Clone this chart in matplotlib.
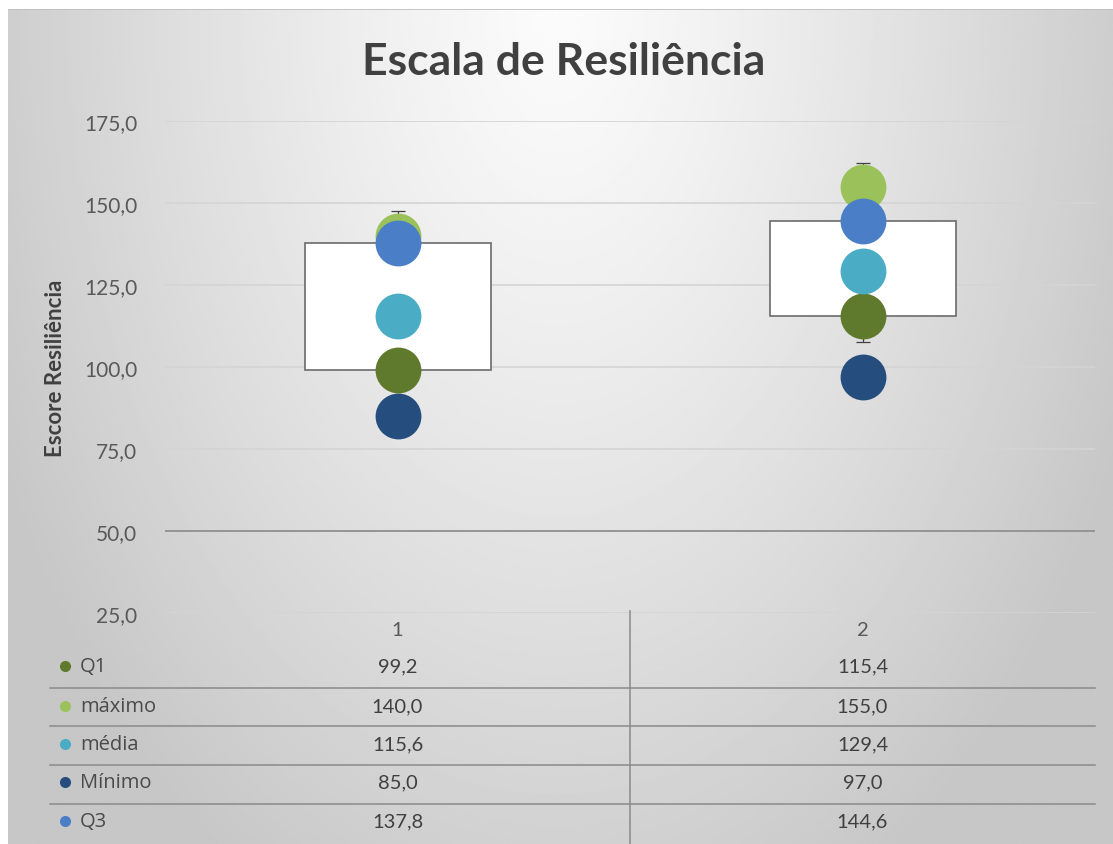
import numpy as np
import matplotlib
matplotlib.use('Agg')
from matplotlib import pyplot as plt
from matplotlib import transforms

plt.rcParams['font.family'] = ['Lato', 'DejaVu Sans']

# data
categories = ['1', '2']
series = ['Q1', 'máximo', 'média', 'Mínimo', 'Q3']
q1 = [99.2, 115.4]
maximo = [140.0, 155.0]
media = [115.6, 129.4]
minimo = [85.0, 97.0]
q3 = [137.8, 144.6]
whisker_top = [147.7, 162.2]
whisker_low = [95.0, 107.5]
yticks = [25, 50, 75, 100, 125, 150, 175]
axis_cross = 50.0

colors = ['#5f7a2c', '#9bc25a', '#4bacc6', '#254e7e', '#4a7fc7']
values = [q1, maximo, media, minimo, q3]

W, H = 1113, 845
fig = plt.figure(figsize=(W / 100, H / 100), dpi=100, facecolor='white')

# background: radial-ish gradient from top centre
bg = fig.add_axes([8 / W, 0, 1 - 8 / W, 1 - 10 / H], zorder=-10)
gx, gy = np.meshgrid(np.linspace(8, W, 400), np.linspace(10, H, 300))
d = np.sqrt(((gx - 557) / 560) ** 2 + ((gy - 10) / 900) ** 2)
shade = np.clip(0.985 - 0.18 * d ** 1.2, 0.78, 1.0)
bg.imshow(shade, cmap='gray', vmin=0, vmax=1, aspect='auto',
          extent=[8, W, H, 10], interpolation='bilinear')
bg.set_xlim(8, W)
bg.set_ylim(H, 10)
bg.axis('off')
bg.plot([8, W], [10.5, 10.5], color='#bdbdbd', lw=1.2)

# main plot area
left, right = 165, 1095
top, bottom = 122, 614
ax = fig.add_axes([left / W, 1 - bottom / H, (right - left) / W, (bottom - top) / H])
ax.set_facecolor('none')
x = np.arange(len(categories))

ax.bar(x, np.array(q3) - np.array(q1), bottom=q1, width=0.4,
       color='white', edgecolor='#6b6b6b', linewidth=1.2, zorder=2)
ax.errorbar(x, q3, yerr=[np.array(q3) - np.array(whisker_low),
                         np.array(whisker_top) - np.array(q3)],
            fmt='none', ecolor='#404040', elinewidth=0.9, capsize=5,
            capthick=0.9, zorder=1.5)
for vals, c in zip(values, colors):
    ax.plot(x, vals, 'o', ms=33, color=c, mec='none', zorder=4)

ax.set_xlim(-0.5, len(categories) - 0.5)
ax.set_ylim(25, 175)
ax.set_yticks(yticks)
ax.set_yticklabels([f'{v:.1f}'.replace('.', ',') for v in yticks])
ax.tick_params(axis='y', length=0, pad=20, labelsize=15, labelcolor='#595959')
ax.set_xticks([])
ax.yaxis.grid(True, color='#d4d4d4', lw=1.2)
ax.axhline(axis_cross, color='#8a8a8a', lw=1.2, zorder=1)
ax.set_axisbelow(True)
for s in ax.spines.values():
    s.set_visible(False)
ax.set_ylabel('Escore Resiliência', fontsize=16, fontweight='bold', color='#404040')
ax.yaxis.set_label_coords(-0.106, 0.5)

fig.text(564 / W, 1 - 62 / H, 'Escala de Resiliência', ha='center', va='center',
         fontsize=32, fontweight='bold', color='#404040')

# data table below the plot
tab = fig.add_axes([0, 0, 1, 1], zorder=5)
tab.set_xlim(0, W)
tab.set_ylim(H, 0)
tab.axis('off')
blend = transforms.blended_transform_factory(ax.transData, tab.transData)

header_y = 631
row_y = [667, 707, 745, 783, 822]
sep_y = [689, 727, 766, 805]
for i, cat in enumerate(categories):
    tab.text(i, header_y, cat, transform=blend, ha='center', va='center',
             fontsize=14.5, color='#595959')
for r, (name, vals, c) in enumerate(zip(series, values, colors)):
    tab.plot(65, row_y[r], 'o', ms=8, color=c, mec='none')
    tab.text(80, row_y[r], name, ha='left', va='center', fontsize=14.5,
             color='#4a4a4a', family=['Open Sans', 'DejaVu Sans'])
    for i, v in enumerate(vals):
        tab.text(i, row_y[r], f'{v:.1f}'.replace('.', ','), transform=blend,
                 ha='center', va='center', fontsize=14.5, color='#404040')
for yy in sep_y:
    tab.plot([50, right], [yy, yy], color='#8a8a8a', lw=1.1)
tab.plot([0.5, 0.5], [612, H], transform=blend, color='#8a8a8a', lw=1.1)

fig.savefig('out.png', dpi=100, facecolor='white')
